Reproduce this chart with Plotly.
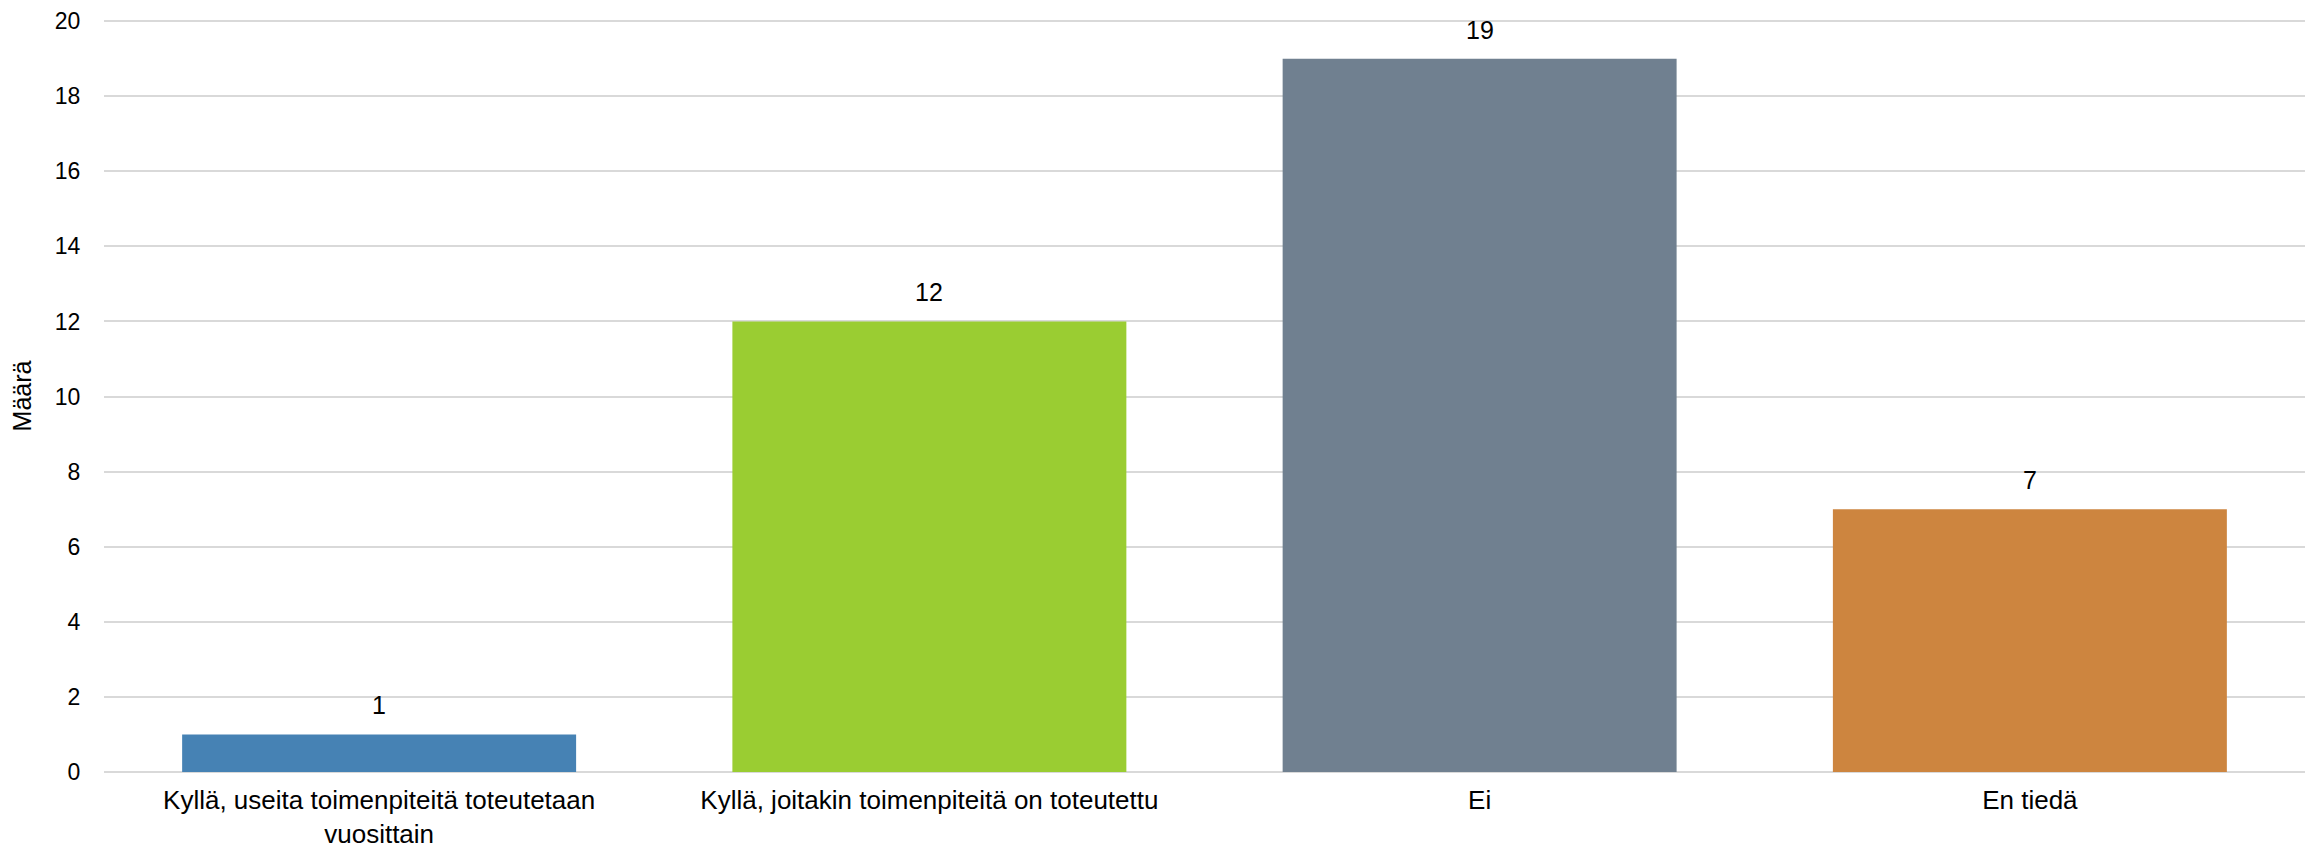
import plotly.graph_objects as go

categories = [
    "Kyllä, useita toimenpiteitä toteutetaan<br>vuosittain",
    "Kyllä, joitakin toimenpiteitä on toteutettu",
    "Ei",
    "En tiedä",
]
values = [1, 12, 19, 7]
colors = ["#4682B4", "#9ACD32", "#708090", "#CD853F"]
y_ticks = [0, 2, 4, 6, 8, 10, 12, 14, 16, 18, 20]

FONT = "Liberation Sans, Arial, sans-serif"
NARROW = "Liberation Sans Narrow, Arial Narrow, Liberation Sans, sans-serif"

fig = go.Figure(
    go.Bar(
        x=categories,
        y=values,
        marker=dict(color=colors, line=dict(width=0)),
        hoverinfo="x+y",
    )
)

for c, v in zip(categories, values):
    fig.add_annotation(
        x=c, y=v, xref="x", yref="y",
        text=str(v), showarrow=False,
        yanchor="bottom", yshift=13,
        font=dict(family=FONT, size=25, color="#000000"),
    )

fig.update_layout(
    width=2305,
    height=840,
    margin=dict(l=96, r=8, t=12, b=76, autoexpand=False),
    paper_bgcolor="#ffffff",
    plot_bgcolor="#ffffff",
    bargap=0.284,
    showlegend=False,
    font=dict(family=FONT, color="#000000"),
)

fig.update_xaxes(
    type="category",
    automargin=False,
    showgrid=False,
    showline=False,
    zeroline=False,
    ticks="outside",
    ticklen=5,
    tickcolor="rgba(0,0,0,0)",
    tickfont=dict(family=FONT, size=26, color="#000000"),
)

fig.update_yaxes(
    automargin=False,
    range=[0, 20.03],
    tickvals=y_ticks,
    showgrid=True,
    gridcolor="#d9d9d9",
    gridwidth=2,
    zeroline=True,
    zerolinecolor="#d9d9d9",
    zerolinewidth=2,
    showline=False,
    ticks="outside",
    ticklen=18,
    tickcolor="rgba(0,0,0,0)",
    tickfont=dict(family=FONT, size=23, color="#000000"),
    title=dict(text="Määrä",
               font=dict(family=NARROW, size=25, color="#000000"),
               standoff=44),
)

fig.write_html("out.html")
